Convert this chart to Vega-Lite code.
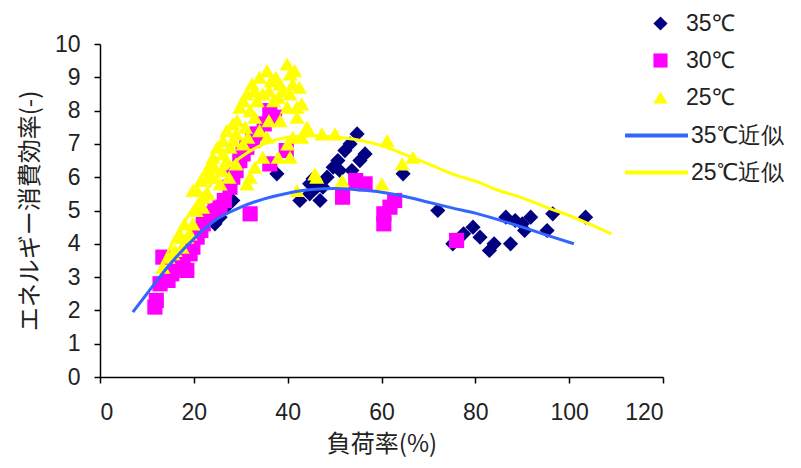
{
  "$schema": "https://vega.github.io/schema/vega-lite/v6.json",
  "width": 563,
  "height": 333,
  "autosize": {"type": "none"},
  "padding": {"left": 100, "top": 44, "right": 138, "bottom": 91},
  "background": "white",
  "config": {
    "view": {"stroke": null},
    "axis": {
      "grid": false,
      "ticks": true,
      "domainColor": "#000000",
      "domainWidth": 1.5,
      "tickColor": "#000000",
      "tickWidth": 1.5,
      "tickSize": 6,
      "labelOverlap": false,
      "labelFont": "Liberation Sans",
      "labelFontSize": 23,
      "labelColor": "#222222",
      "titleFont": "Noto Sans CJK JP",
      "titleFontSize": 24,
      "titleFontWeight": "normal",
      "titleColor": "#222222"
    },
    "legend": {
      "labelFont": "Liberation Sans",
      "labelFontSize": 23,
      "labelColor": "#222222",
      "padding": 0,
      "title": null
    }
  },
  "datasets": {
    "measured": [
      {"load": 25.6, "eff": 4.8, "series": "35℃"},
      {"load": 24.5, "eff": 4.6, "series": "35℃"},
      {"load": 26.8, "eff": 5.1, "series": "35℃"},
      {"load": 28.3, "eff": 5.3, "series": "35℃"},
      {"load": 37.7, "eff": 6.1, "series": "35℃"},
      {"load": 42.6, "eff": 5.3, "series": "35℃"},
      {"load": 44.7, "eff": 5.5, "series": "35℃"},
      {"load": 44.7, "eff": 5.8, "series": "35℃"},
      {"load": 45.4, "eff": 5.95, "series": "35℃"},
      {"load": 46.2, "eff": 5.7, "series": "35℃"},
      {"load": 46.9, "eff": 5.3, "series": "35℃"},
      {"load": 47.5, "eff": 5.7, "series": "35℃"},
      {"load": 48.4, "eff": 6.0, "series": "35℃"},
      {"load": 49.7, "eff": 6.3, "series": "35℃"},
      {"load": 50.7, "eff": 6.5, "series": "35℃"},
      {"load": 51.1, "eff": 6.2, "series": "35℃"},
      {"load": 52.2, "eff": 6.8, "series": "35℃"},
      {"load": 53.3, "eff": 7.0, "series": "35℃"},
      {"load": 54.8, "eff": 7.3, "series": "35℃"},
      {"load": 53.7, "eff": 6.2, "series": "35℃"},
      {"load": 55.4, "eff": 6.5, "series": "35℃"},
      {"load": 56.5, "eff": 6.7, "series": "35℃"},
      {"load": 64.6, "eff": 6.1, "series": "35℃"},
      {"load": 72.0, "eff": 5.0, "series": "35℃"},
      {"load": 75.2, "eff": 4.0, "series": "35℃"},
      {"load": 77.5, "eff": 4.3, "series": "35℃"},
      {"load": 79.5, "eff": 4.5, "series": "35℃"},
      {"load": 81.0, "eff": 4.2, "series": "35℃"},
      {"load": 83.0, "eff": 3.8, "series": "35℃"},
      {"load": 84.0, "eff": 4.0, "series": "35℃"},
      {"load": 87.5, "eff": 4.0, "series": "35℃"},
      {"load": 86.5, "eff": 4.8, "series": "35℃"},
      {"load": 88.5, "eff": 4.7, "series": "35℃"},
      {"load": 90.0, "eff": 4.6, "series": "35℃"},
      {"load": 91.8, "eff": 4.8, "series": "35℃"},
      {"load": 90.5, "eff": 4.4, "series": "35℃"},
      {"load": 95.3, "eff": 4.4, "series": "35℃"},
      {"load": 96.5, "eff": 4.9, "series": "35℃"},
      {"load": 103.5, "eff": 4.8, "series": "35℃"},
      {"load": 11.7, "eff": 2.1, "series": "30℃"},
      {"load": 12.0, "eff": 2.3, "series": "30℃"},
      {"load": 12.8, "eff": 2.8, "series": "30℃"},
      {"load": 13.4, "eff": 3.6, "series": "30℃"},
      {"load": 14.5, "eff": 2.9, "series": "30℃"},
      {"load": 15.3, "eff": 3.1, "series": "30℃"},
      {"load": 16.5, "eff": 3.3, "series": "30℃"},
      {"load": 17.7, "eff": 3.5, "series": "30℃"},
      {"load": 18.5, "eff": 3.2, "series": "30℃"},
      {"load": 19.2, "eff": 3.7, "series": "30℃"},
      {"load": 19.8, "eff": 3.9, "series": "30℃"},
      {"load": 20.7, "eff": 4.2, "series": "30℃"},
      {"load": 21.5, "eff": 4.4, "series": "30℃"},
      {"load": 22.0, "eff": 4.6, "series": "30℃"},
      {"load": 23.0, "eff": 4.9, "series": "30℃"},
      {"load": 24.5, "eff": 5.0, "series": "30℃"},
      {"load": 25.6, "eff": 5.1, "series": "30℃"},
      {"load": 26.5, "eff": 5.3, "series": "30℃"},
      {"load": 27.7, "eff": 5.7, "series": "30℃"},
      {"load": 28.3, "eff": 6.0, "series": "30℃"},
      {"load": 29.0, "eff": 6.2, "series": "30℃"},
      {"load": 29.8, "eff": 6.5, "series": "30℃"},
      {"load": 30.5, "eff": 6.7, "series": "30℃"},
      {"load": 31.3, "eff": 6.9, "series": "30℃"},
      {"load": 32.0, "eff": 4.9, "series": "30℃"},
      {"load": 32.5, "eff": 7.1, "series": "30℃"},
      {"load": 33.5, "eff": 7.3, "series": "30℃"},
      {"load": 35.0, "eff": 7.6, "series": "30℃"},
      {"load": 36.2, "eff": 8.0, "series": "30℃"},
      {"load": 37.2, "eff": 7.8, "series": "30℃"},
      {"load": 36.2, "eff": 6.4, "series": "30℃"},
      {"load": 39.7, "eff": 6.8, "series": "30℃"},
      {"load": 51.7, "eff": 5.4, "series": "30℃"},
      {"load": 54.5, "eff": 5.9, "series": "30℃"},
      {"load": 56.5, "eff": 5.8, "series": "30℃"},
      {"load": 60.5, "eff": 4.6, "series": "30℃"},
      {"load": 60.5, "eff": 4.9, "series": "30℃"},
      {"load": 61.8, "eff": 5.1, "series": "30℃"},
      {"load": 62.8, "eff": 5.3, "series": "30℃"},
      {"load": 76.0, "eff": 4.1, "series": "30℃"},
      {"load": 13.4, "eff": 3.3, "series": "25℃"},
      {"load": 14.5, "eff": 3.6, "series": "25℃"},
      {"load": 15.5, "eff": 3.7, "series": "25℃"},
      {"load": 16.0, "eff": 3.8, "series": "25℃"},
      {"load": 16.5, "eff": 4.2, "series": "25℃"},
      {"load": 17.0, "eff": 4.3, "series": "25℃"},
      {"load": 17.5, "eff": 3.9, "series": "25℃"},
      {"load": 18.0, "eff": 4.6, "series": "25℃"},
      {"load": 18.5, "eff": 4.2, "series": "25℃"},
      {"load": 19.2, "eff": 4.3, "series": "25℃"},
      {"load": 19.8, "eff": 4.6, "series": "25℃"},
      {"load": 20.5, "eff": 5.0, "series": "25℃"},
      {"load": 21.0, "eff": 5.2, "series": "25℃"},
      {"load": 21.9, "eff": 5.1, "series": "25℃"},
      {"load": 22.0, "eff": 5.4, "series": "25℃"},
      {"load": 19.8, "eff": 5.6, "series": "25℃"},
      {"load": 20.7, "eff": 5.6, "series": "25℃"},
      {"load": 21.5, "eff": 5.9, "series": "25℃"},
      {"load": 23.0, "eff": 5.5, "series": "25℃"},
      {"load": 22.8, "eff": 6.2, "series": "25℃"},
      {"load": 23.0, "eff": 6.0, "series": "25℃"},
      {"load": 23.5, "eff": 6.4, "series": "25℃"},
      {"load": 24.0, "eff": 6.0, "series": "25℃"},
      {"load": 24.1, "eff": 6.6, "series": "25℃"},
      {"load": 24.5, "eff": 6.3, "series": "25℃"},
      {"load": 25.0, "eff": 6.9, "series": "25℃"},
      {"load": 26.0, "eff": 6.2, "series": "25℃"},
      {"load": 26.2, "eff": 7.1, "series": "25℃"},
      {"load": 26.2, "eff": 6.7, "series": "25℃"},
      {"load": 27.0, "eff": 6.5, "series": "25℃"},
      {"load": 27.5, "eff": 6.0, "series": "25℃"},
      {"load": 27.7, "eff": 6.9, "series": "25℃"},
      {"load": 27.0, "eff": 7.4, "series": "25℃"},
      {"load": 28.3, "eff": 7.6, "series": "25℃"},
      {"load": 28.5, "eff": 7.1, "series": "25℃"},
      {"load": 29.0, "eff": 7.3, "series": "25℃"},
      {"load": 29.0, "eff": 6.4, "series": "25℃"},
      {"load": 29.2, "eff": 7.7, "series": "25℃"},
      {"load": 29.8, "eff": 8.1, "series": "25℃"},
      {"load": 30.5, "eff": 8.3, "series": "25℃"},
      {"load": 30.5, "eff": 7.0, "series": "25℃"},
      {"load": 31.0, "eff": 7.5, "series": "25℃"},
      {"load": 31.3, "eff": 8.5, "series": "25℃"},
      {"load": 31.5, "eff": 7.2, "series": "25℃"},
      {"load": 32.0, "eff": 8.0, "series": "25℃"},
      {"load": 32.4, "eff": 8.8, "series": "25℃"},
      {"load": 33.0, "eff": 8.6, "series": "25℃"},
      {"load": 33.0, "eff": 7.8, "series": "25℃"},
      {"load": 33.0, "eff": 6.3, "series": "25℃"},
      {"load": 33.5, "eff": 8.3, "series": "25℃"},
      {"load": 34.0, "eff": 9.0, "series": "25℃"},
      {"load": 34.0, "eff": 7.4, "series": "25℃"},
      {"load": 34.7, "eff": 8.5, "series": "25℃"},
      {"load": 34.7, "eff": 6.6, "series": "25℃"},
      {"load": 35.6, "eff": 9.2, "series": "25℃"},
      {"load": 35.6, "eff": 7.2, "series": "25℃"},
      {"load": 36.0, "eff": 8.6, "series": "25℃"},
      {"load": 36.0, "eff": 7.7, "series": "25℃"},
      {"load": 36.5, "eff": 8.9, "series": "25℃"},
      {"load": 37.0, "eff": 8.3, "series": "25℃"},
      {"load": 37.5, "eff": 9.0, "series": "25℃"},
      {"load": 38.0, "eff": 8.4, "series": "25℃"},
      {"load": 38.0, "eff": 6.6, "series": "25℃"},
      {"load": 38.4, "eff": 8.8, "series": "25℃"},
      {"load": 38.4, "eff": 7.7, "series": "25℃"},
      {"load": 39.0, "eff": 8.6, "series": "25℃"},
      {"load": 39.9, "eff": 9.4, "series": "25℃"},
      {"load": 39.9, "eff": 8.1, "series": "25℃"},
      {"load": 40.0, "eff": 7.0, "series": "25℃"},
      {"load": 40.5, "eff": 9.1, "series": "25℃"},
      {"load": 40.5, "eff": 8.5, "series": "25℃"},
      {"load": 40.5, "eff": 6.6, "series": "25℃"},
      {"load": 41.1, "eff": 8.8, "series": "25℃"},
      {"load": 41.1, "eff": 7.2, "series": "25℃"},
      {"load": 41.5, "eff": 9.2, "series": "25℃"},
      {"load": 42.0, "eff": 8.1, "series": "25℃"},
      {"load": 42.0, "eff": 7.8, "series": "25℃"},
      {"load": 42.5, "eff": 8.7, "series": "25℃"},
      {"load": 43.0, "eff": 8.2, "series": "25℃"},
      {"load": 43.0, "eff": 7.2, "series": "25℃"},
      {"load": 44.1, "eff": 7.5, "series": "25℃"},
      {"load": 44.5, "eff": 7.4, "series": "25℃"},
      {"load": 32.0, "eff": 6.0, "series": "25℃"},
      {"load": 25.6, "eff": 5.8, "series": "25℃"},
      {"load": 31.3, "eff": 5.8, "series": "25℃"},
      {"load": 42.0, "eff": 5.6, "series": "25℃"},
      {"load": 45.8, "eff": 6.1, "series": "25℃"},
      {"load": 46.2, "eff": 6.0, "series": "25℃"},
      {"load": 47.3, "eff": 7.3, "series": "25℃"},
      {"load": 50.1, "eff": 7.3, "series": "25℃"},
      {"load": 61.2, "eff": 7.1, "series": "25℃"},
      {"load": 64.4, "eff": 6.4, "series": "25℃"},
      {"load": 66.7, "eff": 6.6, "series": "25℃"},
      {"load": 51.6, "eff": 5.9, "series": "25℃"},
      {"load": 60.1, "eff": 5.8, "series": "25℃"}
    ],
    "fits": [
      {"load": 7, "eff": 1.95, "fit": "35℃近似"},
      {"load": 10, "eff": 2.5, "fit": "35℃近似"},
      {"load": 15, "eff": 3.4, "fit": "35℃近似"},
      {"load": 20, "eff": 4.15, "fit": "35℃近似"},
      {"load": 25, "eff": 4.75, "fit": "35℃近似"},
      {"load": 30, "eff": 5.1, "fit": "35℃近似"},
      {"load": 35, "eff": 5.35, "fit": "35℃近似"},
      {"load": 40, "eff": 5.52, "fit": "35℃近似"},
      {"load": 45, "eff": 5.63, "fit": "35℃近似"},
      {"load": 50, "eff": 5.66, "fit": "35℃近似"},
      {"load": 55, "eff": 5.62, "fit": "35℃近似"},
      {"load": 60, "eff": 5.55, "fit": "35℃近似"},
      {"load": 65, "eff": 5.42, "fit": "35℃近似"},
      {"load": 70, "eff": 5.25, "fit": "35℃近似"},
      {"load": 75, "eff": 5.08, "fit": "35℃近似"},
      {"load": 80, "eff": 4.92, "fit": "35℃近似"},
      {"load": 85, "eff": 4.72, "fit": "35℃近似"},
      {"load": 90, "eff": 4.5, "fit": "35℃近似"},
      {"load": 95, "eff": 4.27, "fit": "35℃近似"},
      {"load": 101, "eff": 4.0, "fit": "35℃近似"},
      {"load": 13, "eff": 3.3, "fit": "25℃近似"},
      {"load": 15, "eff": 3.9, "fit": "25℃近似"},
      {"load": 20, "eff": 5.1, "fit": "25℃近似"},
      {"load": 25, "eff": 6.0, "fit": "25℃近似"},
      {"load": 30, "eff": 6.6, "fit": "25℃近似"},
      {"load": 35, "eff": 7.0, "fit": "25℃近似"},
      {"load": 40, "eff": 7.2, "fit": "25℃近似"},
      {"load": 45, "eff": 7.25, "fit": "25℃近似"},
      {"load": 50, "eff": 7.2, "fit": "25℃近似"},
      {"load": 55, "eff": 7.12, "fit": "25℃近似"},
      {"load": 60, "eff": 6.95, "fit": "25℃近似"},
      {"load": 65, "eff": 6.68, "fit": "25℃近似"},
      {"load": 70, "eff": 6.4, "fit": "25℃近似"},
      {"load": 75, "eff": 6.1, "fit": "25℃近似"},
      {"load": 80, "eff": 5.88, "fit": "25℃近似"},
      {"load": 85, "eff": 5.6, "fit": "25℃近似"},
      {"load": 90, "eff": 5.38, "fit": "25℃近似"},
      {"load": 95, "eff": 5.1, "fit": "25℃近似"},
      {"load": 100, "eff": 4.85, "fit": "25℃近似"},
      {"load": 105, "eff": 4.55, "fit": "25℃近似"},
      {"load": 109, "eff": 4.3, "fit": "25℃近似"}
    ]
  },
  "layer": [
    {
      "data": {"name": "measured"},
      "mark": {"type": "point", "filled": true, "size": 230, "opacity": 1, "strokeWidth": 0},
      "encoding": {
        "x": {
          "field": "load", "type": "quantitative",
          "scale": {"domain": [0, 120], "nice": false},
          "axis": {"values": [0, 20, 40, 60, 80, 100, 120], "title": "負荷率(%)", "labelPadding": 18, "titlePadding": 8, "labelOverlap": false,
            "encode": {"ticks": {"update": {"y2": {"value": -6}}}}}
        },
        "y": {
          "field": "eff", "type": "quantitative",
          "scale": {"domain": [0, 10], "nice": false},
          "axis": {"values": [0, 1, 2, 3, 4, 5, 6, 7, 8, 9, 10], "tickCount": 11, "title": "エネルギー消費効率(-)", "labelPadding": 14, "titlePadding": 12, "labelOverlap": false, "labelSeparation": 0, "format": "d",
            "encode": {"ticks": {"update": {"x2": {"value": 6}}}}}
        },
        "fill": {
          "field": "series", "type": "nominal",
          "scale": {"domain": ["35℃", "30℃", "25℃"], "range": ["#000080", "#FF00FF", "#FFFF00"]},
          "legend": {"orient": "none", "legendX": 549, "legendY": -32, "symbolSize": 200, "labelOffset": 14, "rowPadding": 13}
        },
        "shape": {
          "field": "series", "type": "nominal",
          "scale": {"domain": ["35℃", "30℃", "25℃"], "range": ["diamond", "square", "triangle-up"]},
          "legend": {"orient": "none", "legendX": 549, "legendY": -32, "symbolSize": 200, "labelOffset": 14, "rowPadding": 13}
        },
        "order": {"field": "series", "sort": "descending"}
      }
    },
    {
      "data": {"name": "fits"},
      "mark": {"type": "line", "strokeWidth": 3, "interpolate": "monotone"},
      "encoding": {
        "x": {"field": "load", "type": "quantitative"},
        "y": {"field": "eff", "type": "quantitative"},
        "stroke": {
          "field": "fit", "type": "nominal",
          "scale": {"domain": ["35℃近似", "25℃近似"], "range": ["#3366FF", "#FFFF00"]},
          "legend": {"orient": "none", "legendX": 545, "legendY": 80, "symbolType": "M-6,0H6", "symbolSize": 110, "symbolStrokeWidth": 4, "symbolFillColor": "transparent", "labelOffset": 23, "rowPadding": 13}
        }
      }
    }
  ]
}
